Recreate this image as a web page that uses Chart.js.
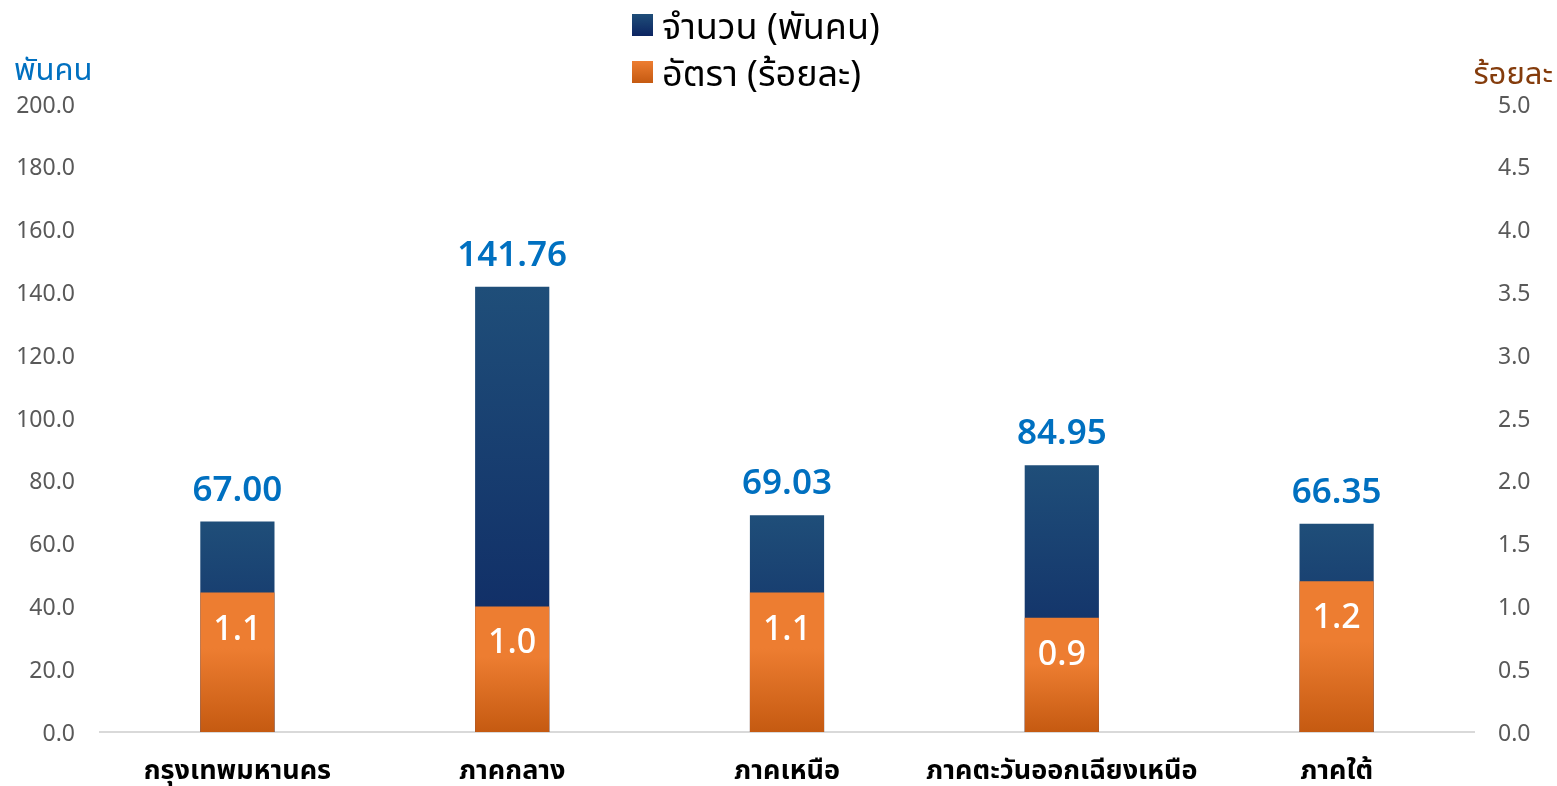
<!DOCTYPE html>
<html>
<head>
<meta charset="utf-8">
<script src="https://cdn.jsdelivr.net/npm/chart.js@4"></script>
<style>
  html, body { margin: 0; padding: 0; background: #ffffff; }
  #wrap { position: relative; width: 1557px; height: 786px; overflow: hidden; }
  canvas { position: absolute; left: 0; top: 0; }
  .lg { position: absolute; left: 632px; font-family: "Noto Sans Thai", "Noto Sans", sans-serif; font-size: 36px; color: #000; line-height: 1; white-space: nowrap; }
  .lg .sw { position: absolute; left: 0; width: 21px; height: 22px; }
  .lg .tx { position: absolute; left: 30px; top: -4px; }
  .ttl { position: absolute; font-family: "Noto Sans Thai", "Noto Sans", sans-serif; font-size: 31px; line-height: 1; white-space: nowrap; }
</style>
</head>
<body>
<div id="wrap">
  <canvas id="c" width="1557" height="786"></canvas>
  <div class="lg" id="lg1" style="top:14px;"><div class="sw" style="background:linear-gradient(#1f4e79,#0c2461);"></div><div class="tx" id="lgt1"></div></div>
  <div class="lg" id="lg2" style="top:61px;"><div class="sw" style="background:linear-gradient(#ed7d31,#c55a11);"></div><div class="tx" id="lgt2"></div></div>
  <div class="ttl" id="tl" style="left:14px; top:55px; color:#0070c0;"></div>
  <div class="ttl" id="tr" style="right:4px; top:59px; color:#843c0c;"></div>
</div>
<script>
// ---- data ----
const categories = ['กรุงเทพมหานคร', 'ภาคกลาง', 'ภาคเหนือ', 'ภาคตะวันออกเฉียงเหนือ', 'ภาคใต้'];
const amountLabel = 'จำนวน (พันคน)';
const rateLabel = 'อัตรา (ร้อยละ)';
const amountValues = [67.00, 141.76, 69.03, 84.95, 66.35];
const rateValues = [1.11, 1.00, 1.11, 0.91, 1.20];
const leftAxisTitle = 'พันคน';
const rightAxisTitle = 'ร้อยละ';
const leftTicks = [0, 20, 40, 60, 80, 100, 120, 140, 160, 180, 200];
const rightTicks = [0, 0.5, 1.0, 1.5, 2.0, 2.5, 3.0, 3.5, 4.0, 4.5, 5.0];

document.getElementById('lgt1').textContent = amountLabel;
document.getElementById('lgt2').textContent = rateLabel;
document.getElementById('tl').textContent = leftAxisTitle;
document.getElementById('tr').textContent = rightAxisTitle;

const FONT = '"Noto Sans Thai", "Noto Sans", sans-serif';

function barGradient(ctx, axisId, stops) {
  const chart = ctx.chart;
  const sc = chart.scales[axisId];
  if (!sc || ctx.dataIndex === undefined) return stops[0][1];
  const v = ctx.dataset.data[ctx.dataIndex];
  const top = sc.getPixelForValue(v);
  const bot = sc.getPixelForValue(0);
  if (!isFinite(top) || !isFinite(bot) || top === bot) return stops[0][1];
  const g = chart.ctx.createLinearGradient(0, top, 0, bot);
  stops.forEach(s => g.addColorStop(s[0], s[1]));
  return g;
}

const labelPlugin = {
  id: 'barLabels',
  afterDatasetsDraw(chart) {
    const c = chart.ctx;
    c.save();
    c.textAlign = 'center';
    c.textBaseline = 'alphabetic';
    const m1 = chart.getDatasetMeta(1);
    c.font = '600 35px ' + FONT;
    c.fillStyle = '#0070c0';
    m1.data.forEach((el, i) => {
      c.fillText(amountValues[i].toFixed(2), el.x, el.y - 21);
    });
    const m0 = chart.getDatasetMeta(0);
    c.font = '500 34px ' + FONT;
    c.fillStyle = '#ffffff';
    m0.data.forEach((el, i) => {
      c.fillText(rateValues[i].toFixed(1), el.x, el.y + 47);
    });
    c.restore();
  }
};

new Chart(document.getElementById('c'), {
  type: 'bar',
  data: {
    labels: categories,
    datasets: [
      {
        label: rateLabel,
        data: rateValues,
        yAxisID: 'y1',
        grouped: false,
        barPercentage: 0.27,
        categoryPercentage: 1,
        backgroundColor: (ctx) => barGradient(ctx, 'y1', [[0, '#ed7d31'], [0.4, '#ed7d31'], [1, '#c55a11']])
      },
      {
        label: amountLabel,
        data: amountValues,
        yAxisID: 'y',
        grouped: false,
        barPercentage: 0.27,
        categoryPercentage: 1,
        backgroundColor: (ctx) => barGradient(ctx, 'y', [[0, '#1f4e79'], [1, '#0c2461']])
      }
    ]
  },
  options: {
    responsive: false,
    devicePixelRatio: 1,
    animation: false,
    layout: { padding: { top: 104, left: 0, right: 0, bottom: 0 } },
    plugins: {
      legend: { display: false },
      tooltip: { enabled: false }
    },
    scales: {
      x: {
        grid: { display: false, drawTicks: false },
        border: { display: true, color: '#d9d9d9', width: 2 },
        ticks: {
          color: '#000000',
          font: { family: FONT, size: 27, weight: 'bold' },
          padding: 25,
          maxRotation: 0,
          autoSkip: false
        },
        afterFit: (a) => { a.height = 54; }
      },
      y: {
        position: 'left',
        min: 0, max: 200,
        afterBuildTicks: (a) => { a.ticks = leftTicks.map(v => ({ value: v })); },
        grid: { display: false, drawTicks: false },
        border: { display: false },
        ticks: {
          color: '#595959',
          font: { family: FONT, size: 23 },
          padding: 25,
          labelOffset: 4,
          callback: (v) => Number(v).toFixed(1)
        },
        afterFit: (a) => { a.width = 100; }
      },
      y1: {
        position: 'right',
        min: 0, max: 5,
        afterBuildTicks: (a) => { a.ticks = rightTicks.map(v => ({ value: v })); },
        grid: { display: false, drawTicks: false },
        border: { display: false },
        ticks: {
          color: '#595959',
          font: { family: FONT, size: 23 },
          padding: 24,
          labelOffset: 4,
          callback: (v) => Number(v).toFixed(1)
        },
        afterFit: (a) => { a.width = 83; }
      }
    }
  },
  plugins: [labelPlugin]
});
</script>
</body>
</html>
